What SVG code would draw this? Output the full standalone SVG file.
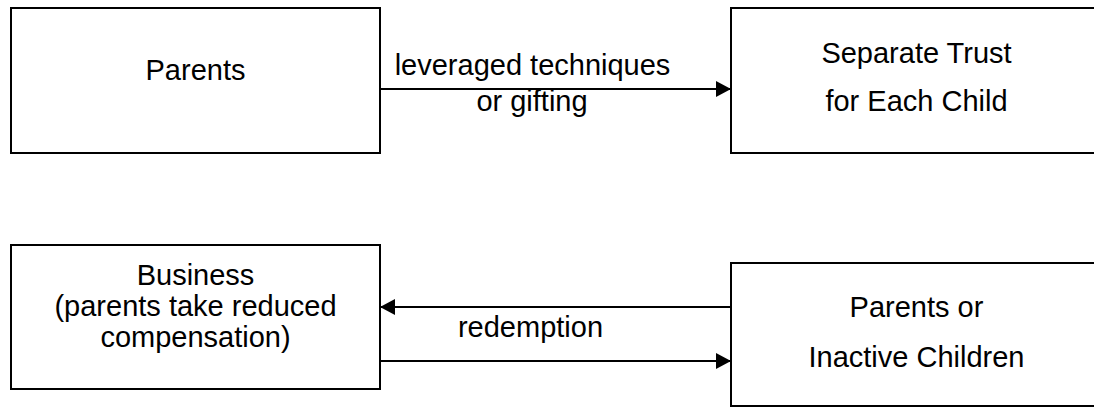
<svg xmlns="http://www.w3.org/2000/svg" width="1094" height="407" viewBox="0 0 1094 407">
<style>
.box{fill:#fff;stroke:#000;stroke-width:2}
.lbl{font-family:"Liberation Sans",Arial,sans-serif;font-size:29px;fill:#000;text-anchor:middle}
.conn{stroke:#000;stroke-width:2;fill:none}
</style>
<defs>
<marker id="ah" markerUnits="userSpaceOnUse" markerWidth="16" markerHeight="17" viewBox="0 0 16 17" refX="15" refY="8.5" orient="auto">
<polygon points="0,0.5 15,8.5 0,16.5" fill="#000"/>
</marker>
</defs>
<rect width="1094" height="407" fill="#fff"/>
<g id="parents">
<rect class="box" x="11" y="8" width="369" height="145"/>
<text class="lbl" x="195.5" y="80">Parents</text>
</g>
<g id="trust">
<rect class="box" x="731" y="8" width="371" height="145"/>
<text class="lbl" x="916.5" y="63">Separate Trust</text>
<text class="lbl" x="916.5" y="111">for Each Child</text>
</g>
<g id="business">
<rect class="box" x="11" y="245" width="369" height="144"/>
<text class="lbl" x="195.5" y="285">Business</text>
<text class="lbl" x="195.5" y="316">(parents take reduced</text>
<text class="lbl" x="195.5" y="347">compensation)</text>
</g>
<g id="inactive">
<rect class="box" x="731" y="263" width="371" height="143"/>
<text class="lbl" x="916.5" y="317">Parents or</text>
<text class="lbl" x="916.5" y="367">Inactive Children</text>
</g>
<g id="connectors">
<line class="conn" x1="380" y1="89" x2="731" y2="89" marker-end="url(#ah)"/>
<text class="lbl" x="532.5" y="75">leveraged techniques</text>
<text class="lbl" x="532" y="111">or gifting</text>
<line class="conn" x1="731" y1="307" x2="380" y2="307" marker-end="url(#ah)"/>
<line class="conn" x1="380" y1="361" x2="731" y2="361" marker-end="url(#ah)"/>
<text class="lbl" x="530.5" y="336.5">redemption</text>
</g>
</svg>
